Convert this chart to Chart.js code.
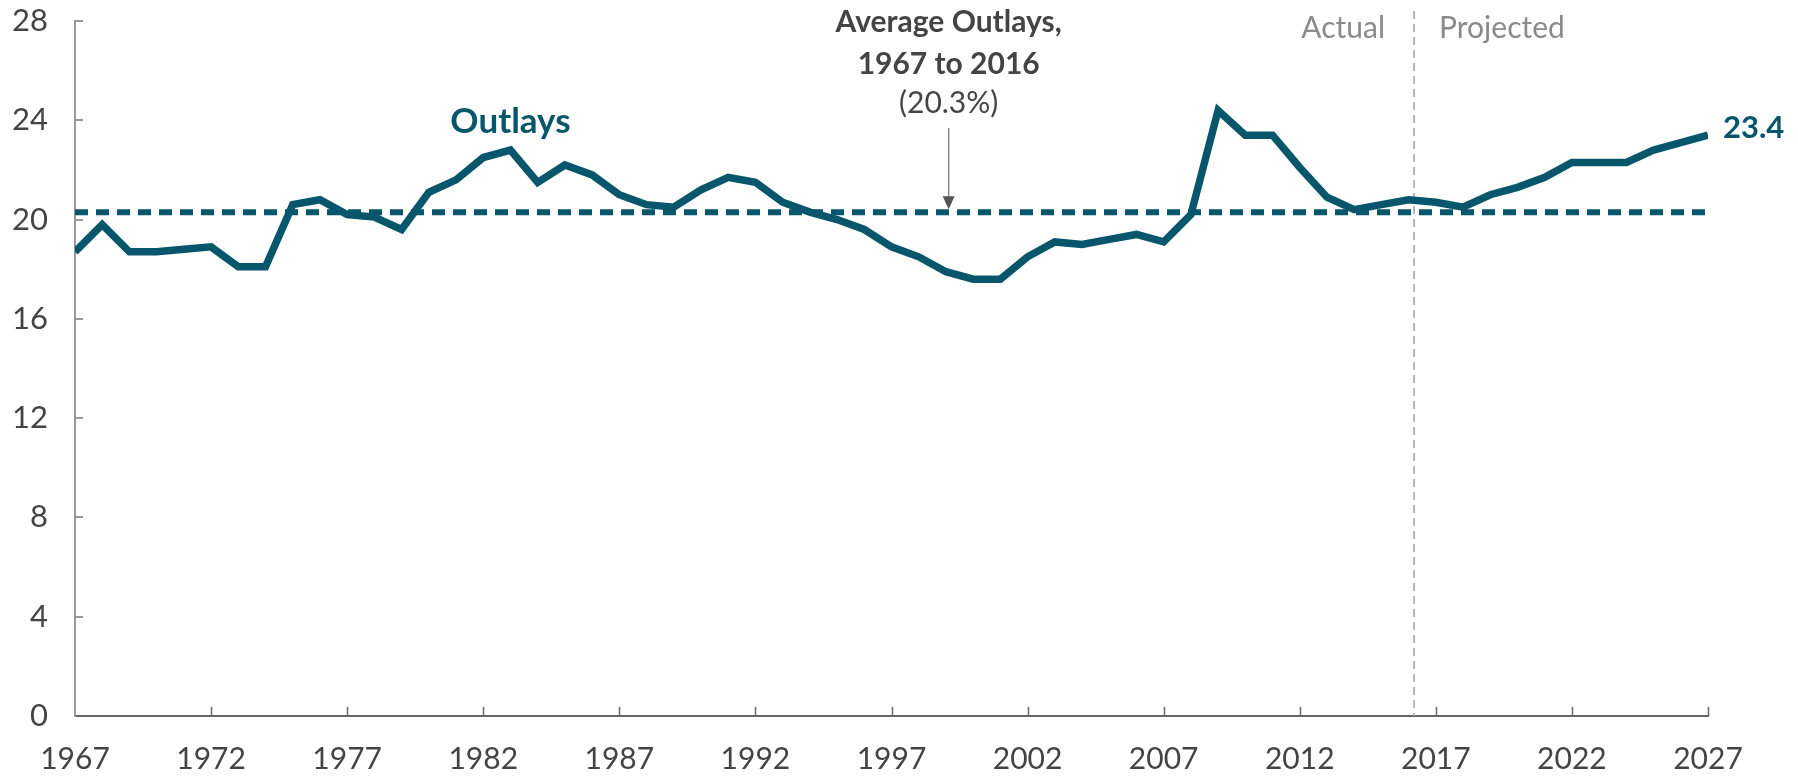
<!DOCTYPE html>
<html><head><meta charset="utf-8">
<script src="https://cdn.jsdelivr.net/npm/chart.js@4.4.0/dist/chart.umd.min.js"></script>
<style>html,body{margin:0;padding:0;background:#fff;}#wrap{width:1798px;height:776px;}</style>
</head><body><div id="wrap"><canvas id="c" width="1798" height="776"></canvas></div>
<script>
const years = [1967,1968,1969,1970,1971,1972,1973,1974,1975,1976,1977,1978,1979,1980,1981,1982,1983,1984,1985,1986,1987,1988,1989,1990,1991,1992,1993,1994,1995,1996,1997,1998,1999,2000,2001,2002,2003,2004,2005,2006,2007,2008,2009,2010,2011,2012,2013,2014,2015,2016,2017,2018,2019,2020,2021,2022,2023,2024,2025,2026,2027];
const outlays = [18.7,19.8,18.7,18.7,18.8,18.9,18.1,18.1,20.6,20.8,20.2,20.1,19.6,21.1,21.6,22.5,22.8,21.5,22.2,21.8,21.0,20.6,20.5,21.2,21.7,21.5,20.7,20.3,20.0,19.6,18.9,18.5,17.9,17.6,17.6,18.5,19.1,19.0,19.2,19.4,19.1,20.2,24.4,23.4,23.4,22.1,20.9,20.4,20.6,20.8,20.7,20.5,21.0,21.3,21.7,22.3,22.3,22.3,22.8,23.1,23.4];
const averageValue = 20.3;
const averageYears = [1967, 2027];
const xTickYears = [1967,1972,1977,1982,1987,1992,1997,2002,2007,2012,2017,2022,2027];
const yTickValues = [0,4,8,12,16,20,24,28];
const dividerYear = 2016.2;
const lastLabel = '23.4';
const seriesLabel = 'Outlays';
const averageNote = ['Average Outlays,', '1967 to 2016', '(20.3%)'];
const periodLabels = ['Actual', 'Projected'];

const TEAL = '#08566b';
const FONT = 'Lato, "Open Sans", sans-serif';

const annot = {
  id: 'annot',
  beforeDatasetsDraw(chart) {
    const ctx = chart.ctx, xs = chart.scales.x, ys = chart.scales.y;
    const dx = xs.getPixelForValue(dividerYear);
    ctx.save();
    ctx.strokeStyle = '#a0a0a0';
    ctx.lineWidth = 1.5;
    ctx.setLineDash([8, 5]);
    ctx.beginPath();
    ctx.moveTo(dx, ys.getPixelForValue(28.4));
    ctx.lineTo(dx, ys.getPixelForValue(0));
    ctx.stroke();
    ctx.restore();
  },
  afterDraw(chart) {
    const ctx = chart.ctx, xs = chart.scales.x, ys = chart.scales.y;
    const left = xs.left, bottom = ys.bottom;
    ctx.save();
    ctx.strokeStyle = '#999';
    ctx.lineWidth = 2;
    yTickValues.forEach(v => {
      if (v === 0) return;
      const y = Math.round(ys.getPixelForValue(v));
      ctx.beginPath(); ctx.moveTo(left, y); ctx.lineTo(left + 8, y); ctx.stroke();
    });
    ctx.strokeStyle = '#666';
    ctx.lineWidth = 1.5;
    xTickYears.forEach(v => {
      if (v === xTickYears[0]) return;
      const x = Math.round(xs.getPixelForValue(v)) + 0.5;
      ctx.beginPath(); ctx.moveTo(x, bottom); ctx.lineTo(x, bottom - 9); ctx.stroke();
    });

    ctx.fillStyle = TEAL;
    ctx.font = 'bold 35px ' + FONT;
    ctx.textAlign = 'center';
    ctx.textBaseline = 'alphabetic';
    ctx.fillText(seriesLabel, xs.getPixelForValue(1983.0), ys.getPixelForValue(23.5));

    ctx.font = 'bold 31px ' + FONT;
    ctx.textAlign = 'left';
    ctx.fillText(lastLabel, xs.getPixelForValue(years[years.length - 1]) + 15, ys.getPixelForValue(outlays[outlays.length - 1]) + 3);

    const ax = xs.getPixelForValue(1999.1);
    ctx.fillStyle = '#444';
    ctx.textAlign = 'center';
    ctx.font = 'bold 30px ' + FONT;
    ctx.fillText(averageNote[0], ax, ys.getPixelForValue(27.56));
    ctx.fillText(averageNote[1], ax, ys.getPixelForValue(25.87));
    ctx.font = '30px ' + FONT;
    ctx.fillText(averageNote[2], ax, ys.getPixelForValue(24.29));

    const aTop = ys.getPixelForValue(23.69);
    const aTip = ys.getPixelForValue(averageValue) - 3;
    ctx.strokeStyle = '#888';
    ctx.fillStyle = '#555';
    ctx.lineWidth = 1.5;
    ctx.beginPath(); ctx.moveTo(ax, aTop); ctx.lineTo(ax, aTip - 10); ctx.stroke();
    ctx.beginPath();
    ctx.moveTo(ax - 6, aTip - 13); ctx.lineTo(ax + 6, aTip - 13); ctx.lineTo(ax, aTip); ctx.closePath(); ctx.fill();

    const dx = xs.getPixelForValue(dividerYear);
    ctx.fillStyle = '#8a8a8a';
    ctx.font = '30px ' + FONT;
    ctx.textAlign = 'right';
    ctx.fillText(periodLabels[0], dx - 29, ys.getPixelForValue(27.3));
    ctx.textAlign = 'left';
    ctx.fillText(periodLabels[1], dx + 25, ys.getPixelForValue(27.3));
    ctx.restore();
  }
};

new Chart(document.getElementById('c'), {
  type: 'line',
  data: {
    datasets: [
      {
        label: seriesLabel,
        data: years.map((y, i) => ({x: y, y: outlays[i]})),
        borderColor: TEAL,
        borderWidth: 7.5,
        pointRadius: 0,
        tension: 0,
        fill: false
      },
      {
        label: 'Average',
        data: averageYears.map(y => ({x: y, y: averageValue})),
        borderColor: TEAL,
        borderWidth: 6,
        borderDash: [13, 8],
        borderCapStyle: 'butt',
        pointRadius: 0,
        fill: false
      }
    ]
  },
  options: {
    responsive: false,
    devicePixelRatio: 1,
    animation: false,
    events: [],
    layout: {padding: {left: 0, top: 21, right: 90, bottom: 0}},
    plugins: {legend: {display: false}, tooltip: {enabled: false}},
    scales: {
      x: {
        type: 'linear',
        min: 1967, max: 2027,
        afterBuildTicks: s => { s.ticks = xTickYears.map(v => ({value: v})); },
        afterFit: s => { s.height = 60; s.paddingLeft = 0; s.paddingRight = 0; },
        grid: {display: false, drawTicks: false},
        border: {display: true, color: '#666', width: 2},
        ticks: {
          callback: v => String(v),
          color: '#444',
          font: {family: FONT, size: 30},
          padding: 25,
          maxRotation: 0,
          autoSkip: false
        }
      },
      y: {
        min: 0, max: 28,
        afterBuildTicks: s => { s.ticks = yTickValues.map(v => ({value: v})); },
        afterFit: s => { s.width = 75; s.paddingTop = 0; s.paddingBottom = 0; },
        grid: {display: false, drawTicks: false},
        border: {display: true, color: '#999', width: 2},
        ticks: {
          callback: v => String(v),
          color: '#444',
          font: {family: FONT, size: 31},
          padding: 27
        }
      }
    }
  },
  plugins: [annot]
});
</script>
</body></html>
